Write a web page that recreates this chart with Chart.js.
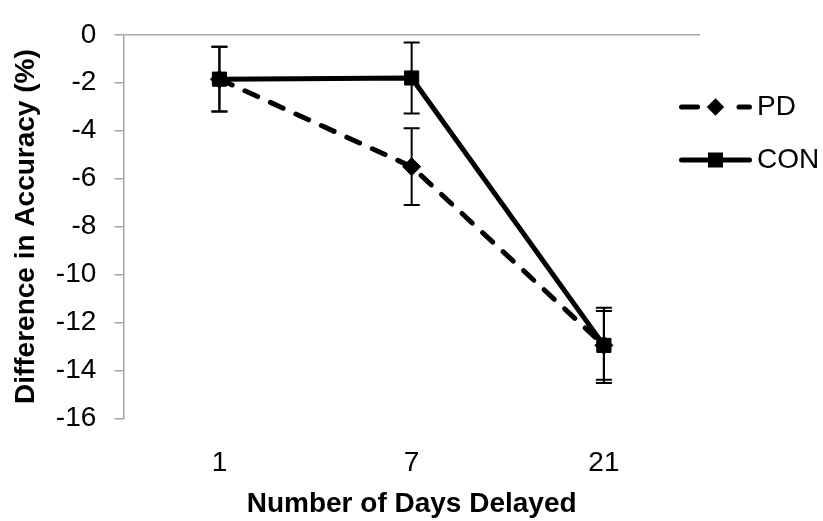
<!DOCTYPE html>
<html>
<head>
<meta charset="utf-8">
<script src="https://cdn.jsdelivr.net/npm/chart.js@4"></script>
<style>
  body { margin: 0; background: #fff; }
</style>
</head>
<body>
<canvas id="myChart" width="823" height="521"></canvas>
<script>
// data
const dias = ["1", "7", "21"];
const valoresPD = [-1.85, -5.5, -12.95];
const valoresCON = [-1.85, -1.8, -12.95];
const errorPD = [1.35, 1.6, 1.57];
const errorCON = [1.35, 1.48, 1.43];
const ticksY = [0, -2, -4, -6, -8, -10, -12, -14, -16];

Chart.defaults.font.family = '"Liberation Sans", Arial, sans-serif';
Chart.defaults.font.size = 28;
Chart.defaults.color = "#000";

const gris = "#a6a6a6";

// legend icon: line + marker; the drawing starts 9px in so the text sits close
function iconoLeyenda(punteada, marcador) {
  const c = document.createElement("canvas");
  c.width = 82;
  c.height = 22;
  const g = c.getContext("2d");
  const dx = 9;
  g.strokeStyle = "#000";
  g.fillStyle = "#000";
  g.lineWidth = 5;
  g.lineCap = "round";
  const cy = 11;
  g.beginPath();
  if (punteada) {
    g.moveTo(dx + 2.5, cy); g.lineTo(dx + 18.5, cy);
    g.moveTo(dx + 60, cy); g.lineTo(dx + 70.5, cy);
  } else {
    g.moveTo(dx + 2.5, cy); g.lineTo(dx + 70.5, cy);
  }
  g.stroke();
  g.beginPath();
  if (marcador === "diamante") {
    g.moveTo(dx + 36.5, cy - 8.7);
    g.lineTo(dx + 45.2, cy);
    g.lineTo(dx + 36.5, cy + 8.7);
    g.lineTo(dx + 27.8, cy);
    g.closePath();
  } else {
    g.rect(dx + 29, cy - 7.5, 15, 15);
  }
  g.fill();
  return c;
}

const errorBars = {
  id: "errorBars",
  beforeDatasetsDraw(chart) {
    const { ctx, scales } = chart;
    ctx.save();
    ctx.strokeStyle = "#000";
    ctx.lineWidth = 2;
    chart.data.datasets.forEach((ds) => {
      ds.errores.forEach((err, j) => {
        const px = scales.x.getPixelForValue(j);
        const top = scales.y.getPixelForValue(ds.data[j] + err);
        const bottom = scales.y.getPixelForValue(ds.data[j] - err);
        ctx.beginPath();
        ctx.moveTo(px, top); ctx.lineTo(px, bottom);
        ctx.moveTo(px - 8, top); ctx.lineTo(px + 8, top);
        ctx.moveTo(px - 8, bottom); ctx.lineTo(px + 8, bottom);
        ctx.stroke();
      });
    });
    ctx.restore();
  },
};

// the legend sits a bit over the right edge of the plot, as in the original
const moverLeyenda = {
  id: "moverLeyenda",
  afterLayout(chart) {
    chart.legend.left = 654;
  },
};

const config = {
  type: "line",
  data: {
    labels: dias,
    datasets: [
      {
        label: "PD",
        data: valoresPD,
        errores: errorPD,
        borderColor: "#000",
        backgroundColor: "#000",
        borderWidth: 5,
        borderDash: [14, 14],
        borderCapStyle: "round",
        pointStyle: "rectRot",
        pointRadius: 9,
        pointBorderWidth: 1,
        pointBackgroundColor: "#000",
        pointBorderColor: "#000",
        tension: 0,
        fill: false,
      },
      {
        label: "CON",
        data: valoresCON,
        errores: errorCON,
        borderColor: "#000",
        backgroundColor: "#000",
        borderWidth: 5,
        pointStyle: "rect",
        pointRadius: 10,
        pointBorderWidth: 1,
        pointBackgroundColor: "#000",
        pointBorderColor: "#000",
        tension: 0,
        fill: false,
      },
    ],
  },
  options: {
    responsive: false,
    animation: false,
    layout: { padding: { top: 19, right: 0, bottom: 0, left: 0 } },
    plugins: {
      tooltip: { enabled: false },
      legend: {
        position: "right",
        align: "start",
        maxWidth: 123,
        title: { display: true, text: "", font: { size: 10 }, padding: { top: 37, bottom: 0 } },
        labels: {
          usePointStyle: true,
          pointStyleWidth: 64,
          boxHeight: 28,
          padding: 25,
          font: { size: 28 },
          color: "#000",
          generateLabels: () => [
            { text: "PD", pointStyle: iconoLeyenda(true, "diamante"), fillStyle: "#000", strokeStyle: "#000", lineWidth: 0, hidden: false, datasetIndex: 0 },
            { text: "CON", pointStyle: iconoLeyenda(false, "cuadro"), fillStyle: "#000", strokeStyle: "#000", lineWidth: 0, hidden: false, datasetIndex: 1 },
          ],
        },
      },
    },
    scales: {
      x: {
        type: "category",
        offset: true,
        grid: { display: false },
        border: { display: false },
        ticks: { padding: 20, font: { size: 28 }, color: "#000" },
        title: {
          display: true,
          text: "Number of Days Delayed",
          font: { size: 28, weight: "bold" },
          color: "#000",
          padding: { top: 15, bottom: 0 },
        },
        afterFit: (scale) => { scale.height = 102.5; },
      },
      y: {
        min: ticksY[ticksY.length - 1],
        max: ticksY[0],
        afterBuildTicks: (scale) => { scale.ticks = ticksY.map((v) => ({ value: v })); },
        grid: {
          color: (ctx) => (ctx.tick && ctx.tick.value === 0 ? gris : "transparent"),
          tickColor: gris,
          tickLength: 9,
          lineWidth: 1.5,
        },
        border: { display: true, color: gris, width: 1.5 },
        ticks: { padding: 18, font: { size: 28 }, color: "#000" },
        title: {
          display: true,
          text: "Difference in Accuracy (%)",
          font: { size: 28, weight: "bold" },
          color: "#000",
          padding: { top: 9, bottom: 0 },
        },
        afterFit: (scale) => { scale.width = 123.3; },
      },
    },
  },
  plugins: [errorBars, moverLeyenda],
};

new Chart(document.getElementById("myChart").getContext("2d"), config);
</script>
</body>
</html>
